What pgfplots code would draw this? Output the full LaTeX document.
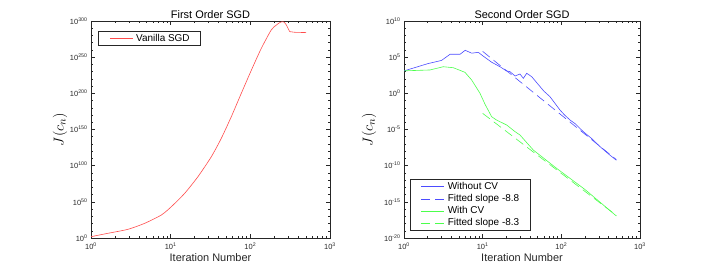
\documentclass[border=0pt]{standalone}
\usepackage{fontspec}
\setmainfont{Liberation Sans}
\usepackage{pgfplots}
\pgfplotsset{compat=1.18}
\definecolor{axgray}{rgb}{0.15,0.15,0.15}
\definecolor{mred}{rgb}{1,0.3,0.3}
\definecolor{mblue}{rgb}{0.3,0.3,1}
\definecolor{mgreen}{rgb}{0.3,1,0.3}
\newcommand{\tl}[1]{10\textsuperscript{#1}}
\pgfplotsset{
  mystyle/.style={
    scale only axis,
    xmin=1, xmax=1000,
    xtick={1,10,100,1000},
    xticklabels={\tl{0},\tl{1},\tl{2},\tl{3}},
    minor xtick={2,3,4,5,6,7,8,9,20,30,40,50,60,70,80,90,200,300,400,500,600,700,800,900},
    tick align=inside,
    major tick length=4bp,
    minor tick length=2bp,
    axis line style={axgray, line width=0.5bp},
    every tick/.style={axgray, line width=0.5bp},
    tick label style={font=\fontsize{7.5}{8}\selectfont, text=axgray},
    xlabel style={font=\fontsize{11}{13}\selectfont, at={(axis description cs:0.5,-0.092)}, anchor=center, text=axgray},
    ylabel style={font=\fontsize{15}{17}\selectfont},
    title style={font=\fontsize{11}{13}\selectfont, at={(axis description cs:0.5,1)}, anchor=base, yshift=-3bp},
    xticklabel style={yshift=-1bp},
    legend cell align=left,
    legend style={font=\fontsize{10}{11}\selectfont, draw=axgray, line width=0.5bp, inner xsep=9bp, inner ysep=1bp, row sep=-0.6bp},
  }
}
\begin{document}
\begin{tikzpicture}[x=1bp,y=1bp]
\path[use as bounding box] (0,0) rectangle (708,269);
% ---------------- Left: First Order SGD
\begin{loglogaxis}[mystyle,
  legend image code/.code={\path (0bp,0bp); \draw[#1] (2bp,0bp) -- (25bp,0bp); \path (26bp,0bp);},
  at={(91bp,31bp)}, anchor=south west,
  width=239bp, height=217bp,
  ymin=1, ymax=1e300,
  ytick={1,1e50,1e100,1e150,1e200,1e250,1e300},
  yticklabels={\tl{0},\tl{50},\tl{100},\tl{150},\tl{200},\tl{250},\tl{300}},
  minor ytick={1e10,1e20,1e30,1e40,1e60,1e70,1e80,1e90,1e110,1e120,1e130,1e140,1e160,1e170,1e180,1e190,1e210,1e220,1e230,1e240,1e260,1e270,1e280,1e290},
  title={First Order SGD},
  xlabel={Iteration Number},
  ylabel={$J(c_n)$},
  ylabel style={at={(axis description cs:-0.13,0.5)}, anchor=center},
  legend style={at={(axis description cs:0.0305,0.955)}, anchor=north west},
]
\addplot[mred, line width=0.6bp, smooth, tension=0.4] coordinates {
(1,6.31e1) (1.63,3.16e6) (2.91,1e12) (4.72,2e20) (7.64,6.31e31) (10.2,2e43)
(15,6.31e61) (22,6.31e84) (32.4,2.51e112) (43.2,6.31e137) (57.7,5.01e167)
(77,1e200) (103,1e232) (137,1e262) (183,3.98e287) (210,1e294) (233,5.01e297)
(250,1e299) (265,3.16e298) (283,3.16e294) (300,1e289) (312,2e285)
};
\addplot[mred, line width=0.6bp, forget plot] coordinates {
(312,2e285) (360,2.51e284) (420,1.6e284) (500,1e284)
};
\addlegendentry{Vanilla SGD}
\end{loglogaxis}
% ---------------- Right: Second Order SGD
\begin{loglogaxis}[mystyle,
  legend image code/.code={\path (0bp,0bp); \draw[#1] (2bp,0bp) -- (25bp,0bp); \path (26bp,0bp);},
  at={(404bp,31bp)}, anchor=south west,
  width=236bp, height=217bp,
  ymin=1e-20, ymax=1e10,
  ytick={1e-20,1e-15,1e-10,1e-5,1,1e5,1e10},
  yticklabels={\tl{-20},\tl{-15},\tl{-10},\tl{-5},\tl{0},\tl{5},\tl{10}},
  minor ytick={1e-19,1e-18,1e-17,1e-16,1e-14,1e-13,1e-12,1e-11,1e-9,1e-8,1e-7,1e-6,1e-4,1e-3,1e-2,1e-1,1e1,1e2,1e3,1e4,1e6,1e7,1e8,1e9},
  title={Second Order SGD},
  xlabel={Iteration Number},
  ylabel={$J(c_n)$},
  ylabel style={at={(axis description cs:-0.148,0.5)}, anchor=center},
  legend style={at={(axis description cs:0.025,0.034)}, anchor=south west},
]
\addplot[mblue, line width=0.6bp] coordinates {
(1,1.26e3) (2,1.26e4) (3,3.55e4) (3.85,2.51e5) (5.15,2.51e5) (6,8.91e5) (7.25,3.55e5)
(8.8,4.68e5) (10,1.58e5) (13,2.0e4) (16.6,4.79e3) (20,1.26e3) (22.2,1.0e3)
(25.8,2.51e2) (29.8,4.68e2) (32.9,1.17e2) (36.3,5.89e2) (42,2.0e2) (53.7,8.32)
(60,2.0) (71.8,3.39e-1) (96,5.01e-3) (110,1e-3) (129,2.04e-4) (150,6.31e-5)
(190,5.01e-6) (240,6.31e-7) (311,4.17e-8) (400,3.98e-9) (500,5.62e-10)
};
\addlegendentry{Without CV}
\addplot[mblue, line width=0.6bp, dash pattern=on 9bp off 5bp] coordinates {
(10,6.31e5) (500,6.92e-10)
};
\addlegendentry{Fitted slope -8.8}
\addplot[mgreen, line width=0.6bp] coordinates {
(1,1.29e3) (2.14,1.70e3) (3.16,4.79e3) (4.24,3.47e3) (5.96,7.94e2) (7.25,6.92e1)
(9.25,1) (10.7,3.16e-2) (13,5.89e-4) (15,2.04e-4) (20.2,4.17e-5) (25.8,5.01e-6)
(29.8,1.74e-6) (44,1.45e-8) (87,4.27e-11) (200,5.01e-14) (500,1.12e-17)
};
\addlegendentry{With CV}
\addplot[mgreen, line width=0.6bp, dash pattern=on 9bp off 5bp] coordinates {
(10,1.70e-3) (500,1.35e-17)
};
\addlegendentry{Fitted slope -8.3}
\end{loglogaxis}
\end{tikzpicture}
\end{document}
